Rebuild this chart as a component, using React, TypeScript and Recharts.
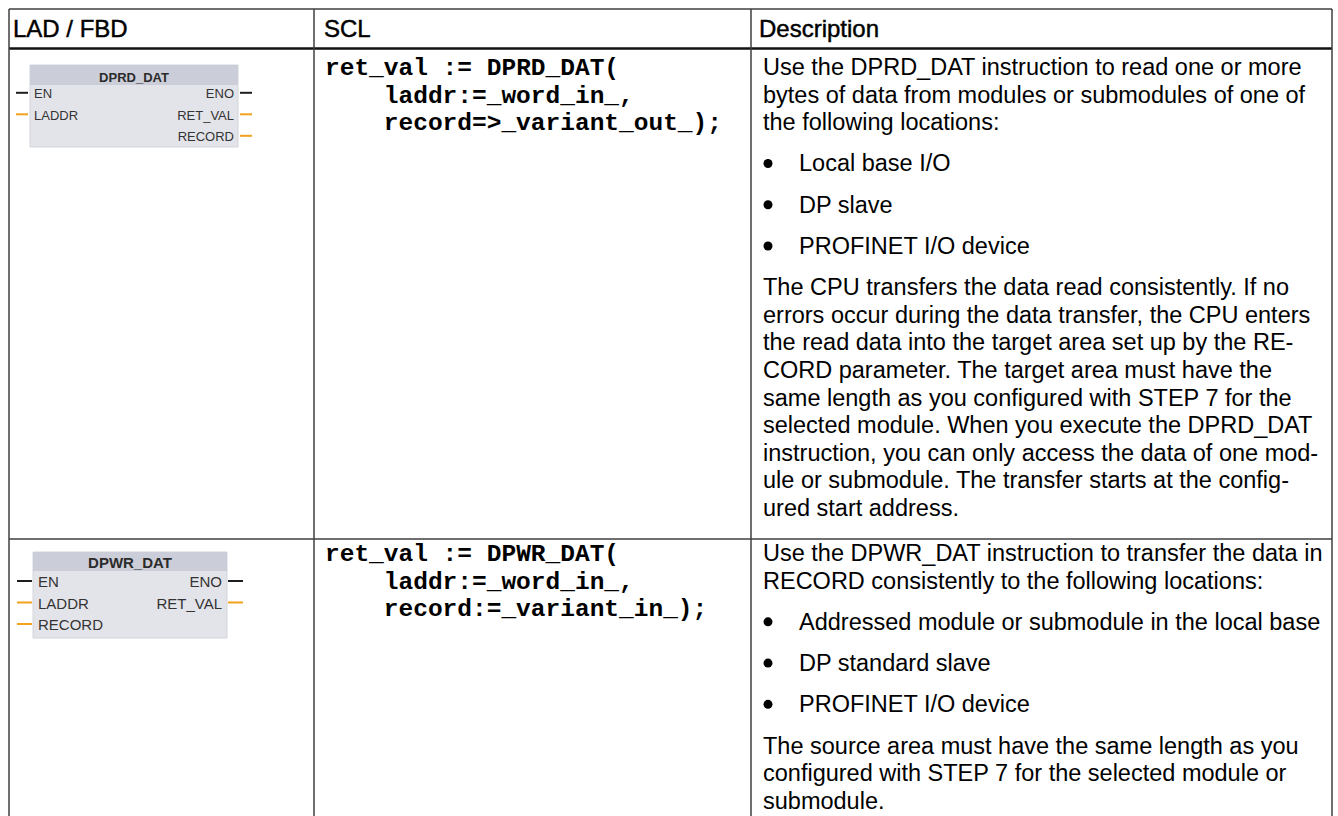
import { Surface, Layer, Text, Rectangle, Dot } from "recharts";

// table content
const headers = ["LAD / FBD", "SCL", "Description"];

const instructions = ["DPRD_DAT", "DPWR_DAT"];

const leftPins = [
    ["EN", "LADDR"],
    ["EN", "LADDR", "RECORD"],
];

const rightPins = [
    ["ENO", "RET_VAL", "RECORD"],
    ["ENO", "RET_VAL"],
];

const sclCode = [
    ["ret_val := DPRD_DAT(", "    laddr:=_word_in_,", "    record=>_variant_out_);"],
    ["ret_val := DPWR_DAT(", "    laddr:=_word_in_,", "    record:=_variant_in_);"],
];

const descDPRD = [
    {
        kind: "p",
        lines: [
            "Use the DPRD_DAT instruction to read one or more",
            "bytes of data from modules or submodules of one of",
            "the following locations:",
        ],
    },
    { kind: "li", lines: ["Local base I/O"] },
    { kind: "li", lines: ["DP slave"] },
    { kind: "li", lines: ["PROFINET I/O device"] },
    {
        kind: "p",
        lines: [
            "The CPU transfers the data read consistently. If no",
            "errors occur during the data transfer, the CPU enters",
            "the read data into the target area set up by the RE-",
            "CORD parameter. The target area must have the",
            "same length as you configured with STEP 7 for the",
            "selected module. When you execute the DPRD_DAT",
            "instruction, you can only access the data of one mod-",
            "ule or submodule. The transfer starts at the config-",
            "ured start address.",
        ],
    },
];

const descDPWR = [
    {
        kind: "p",
        lines: [
            "Use the DPWR_DAT instruction to transfer the data in",
            "RECORD consistently to the following locations:",
        ],
    },
    { kind: "li", lines: ["Addressed module or submodule in the local base"] },
    { kind: "li", lines: ["DP standard slave"] },
    { kind: "li", lines: ["PROFINET I/O device"] },
    {
        kind: "p",
        lines: [
            "The source area must have the same length as you",
            "configured with STEP 7 for the selected module or",
            "submodule.",
        ],
    },
];

const descriptions = [descDPRD, descDPWR];

// layout
const W = 1338;
const H = 816;
const colX = [9, 314, 751, 1332];
const topY = 9;
const headLineY = 48.5;
const rowLineY = 539;
const headBaseline = 37;
const rowBaseline = [75, 561];
const lineStep = 27.6;
const blockStep = 41.25;

const sans = "'Liberation Sans', Arial, sans-serif";
const mono = "'Liberation Mono', 'Courier New', monospace";
const codeSize = 24.5;
const descSize = 23.5;

const blocks = [
    { x: 30, y: 65, w: 208, h: 82, band: 20, font: 13, pin0: 98, pitch: 21.5, lead: 12, gap: 2, pad: 4 },
    { x: 33, y: 552, w: 194, h: 86, band: 19, font: 15, pin0: 587, pitch: 21.5, lead: 15, gap: 1, pad: 5 },
];

const ORANGE = "#f3a21c";
const WIRE = "#1e1e1e";

function FbdBlock({ i }: { i: number }) {
    const b = blocks[i];
    const pinFont = { fontSize: b.font, fontFamily: sans, fill: "#333" };
    return (
        <Layer>
            <Rectangle x={b.x} y={b.y} width={b.w} height={b.h} fill="#e3e4ea" stroke="#d3d5dc" />
            <Rectangle x={b.x} y={b.y} width={b.w} height={b.band} fill="#cbced8" />
            <Text
                x={b.x + b.w / 2}
                y={b.y + b.band - 3}
                textAnchor="middle"
                fontSize={b.font}
                fontWeight="bold"
                fontFamily={sans}
                fill="#2b2b2b"
            >
                {instructions[i]}
            </Text>
            {leftPins[i].map((p, k) => {
                const by = b.pin0 + k * b.pitch;
                const ly = by - b.font * 0.4;
                return (
                    <Layer key={"l" + p}>
                        <line
                            x1={b.x - b.lead - b.gap}
                            x2={b.x - b.gap}
                            y1={ly}
                            y2={ly}
                            stroke={k === 0 ? WIRE : ORANGE}
                            strokeWidth={2}
                        />
                        <Text x={b.x + b.pad} y={by} {...pinFont}>
                            {p}
                        </Text>
                    </Layer>
                );
            })}
            {rightPins[i].map((p, k) => {
                const by = b.pin0 + k * b.pitch;
                const ly = by - b.font * 0.4;
                return (
                    <Layer key={"r" + p}>
                        <line
                            x1={b.x + b.w + b.gap}
                            x2={b.x + b.w + b.gap + b.lead}
                            y1={ly}
                            y2={ly}
                            stroke={k === 0 ? WIRE : ORANGE}
                            strokeWidth={2}
                        />
                        <Text x={b.x + b.w - b.pad} y={by} textAnchor="end" {...pinFont}>
                            {p}
                        </Text>
                    </Layer>
                );
            })}
        </Layer>
    );
}

function SclCell({ i }: { i: number }) {
    const charW = codeSize * 0.6;
    return (
        <Layer>
            {sclCode[i].map((ln, k) => {
                const indent = ln.length - ln.trimStart().length;
                return (
                    <Text
                        key={k}
                        x={colX[1] + 11 + indent * charW}
                        y={rowBaseline[i] + k * lineStep}
                        fontSize={codeSize}
                        fontWeight="bold"
                        fontFamily={mono}
                        fill="#000"
                    >
                        {ln.trim()}
                    </Text>
                );
            })}
        </Layer>
    );
}

function DescCell({ i }: { i: number }) {
    let y = rowBaseline[i] - blockStep;
    const items: JSX.Element[] = [];
    descriptions[i].forEach((blk, bi) => {
        y += blockStep;
        blk.lines.forEach((ln, li) => {
            if (li > 0) y += lineStep;
            if (blk.kind === "li") {
                items.push(<Dot key={`d${bi}`} cx={colX[2] + 17} cy={y - 8} r={4.5} fill="#000" />);
            }
            items.push(
                <Text
                    key={`t${bi}-${li}`}
                    x={blk.kind === "li" ? colX[2] + 48 : colX[2] + 12}
                    y={y}
                    fontSize={descSize}
                    fontFamily={sans}
                    fill="#000"
                >
                    {ln}
                </Text>
            );
        });
    });
    return <Layer>{items}</Layer>;
}

export default function App() {
    const border = "#3f3f3f";
    return (
        <div style={{ position: "absolute", left: 0, top: 0, width: W, height: H, background: "#fff" }}>
            <Surface width={W} height={H}>
                {/* grid */}
                <line x1={colX[0]} x2={colX[3]} y1={topY} y2={topY} stroke={border} strokeWidth={1.5} />
                <line x1={colX[0]} x2={colX[3]} y1={headLineY} y2={headLineY} stroke="#111" strokeWidth={2.6} />
                <line x1={colX[0]} x2={colX[3]} y1={rowLineY} y2={rowLineY} stroke={border} strokeWidth={1.5} />
                {colX.map((x) => (
                    <line key={x} x1={x} x2={x} y1={topY} y2={H} stroke={border} strokeWidth={1.5} />
                ))}

                {/* header */}
                {headers.map((h, k) => (
                    <Text
                        key={h}
                        x={k === 0 ? 13 : colX[k] + (k === 1 ? 10 : 8)}
                        y={headBaseline}
                        fontSize={24}
                        fontFamily={sans}
                        fill="#000"
                        stroke="#000"
                        strokeWidth={0.45}
                    >
                        {h}
                    </Text>
                ))}

                {instructions.map((_, i) => (
                    <Layer key={i}>
                        <FbdBlock i={i} />
                        <SclCell i={i} />
                        <DescCell i={i} />
                    </Layer>
                ))}
            </Surface>
        </div>
    );
}
